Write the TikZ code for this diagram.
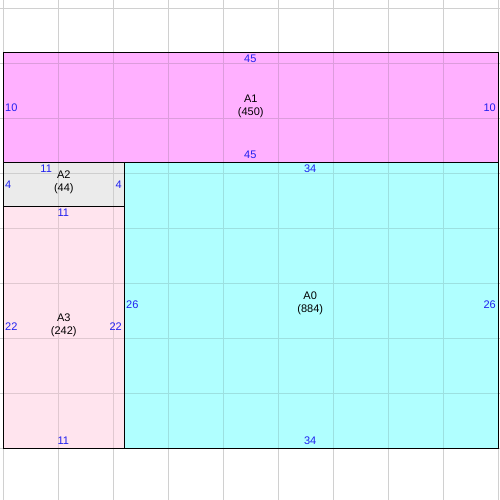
\documentclass[tikz,border=0pt]{standalone}
\usepackage{fontspec}
\setmainfont{Liberation Sans}
\definecolor{cA1}{HTML}{FFB0FF}
\definecolor{cA2}{HTML}{EBEBEB}
\definecolor{cA3}{HTML}{FFE4EE}
\definecolor{cA0}{HTML}{B0FFFF}
\definecolor{gW}{HTML}{D0D0D0}
\definecolor{gA1}{HTML}{DC9CDC}
\definecolor{gA2}{HTML}{CECECE}
\definecolor{gA3}{HTML}{E0C8D0}
\definecolor{gA0}{HTML}{9CE0E0}
\definecolor{numblue}{HTML}{2020F0}
\newcommand{\gridlines}[1]{%
  \foreach \x in {0,5,...,45} \draw[gridline,draw=#1] (\x,-4.7) -- (\x,40.7545);
  \foreach \y in {0,5,...,40} \draw[gridline,draw=#1] (-0.3,\y) -- (45.1545,\y);}
\begin{document}
\begin{tikzpicture}[x=8.25pt,y=8.25pt,
  gridline/.style={line width=0.75pt},
  area/.style={draw=black,line width=0.9pt},
  num/.style={text=numblue,font=\fontsize{8.25pt}{9.75pt}\selectfont,inner sep=0pt},
  lbl/.style={text=black,font=\fontsize{8.25pt}{9.75pt}\selectfont,align=center,inner sep=0pt}]
\useasboundingbox (-0.3,-4.7) rectangle (45.1545,40.7545);
\fill[white] (-0.3,-4.7) rectangle (45.1545,40.7545);
% white-area grid
\gridlines{gW}
% fills with tinted grid
\fill[cA1] (0,26) rectangle (45,36);
\begin{scope}\clip (0,26) rectangle (45,36); \gridlines{gA1} \end{scope}
\fill[cA2] (0,22) rectangle (11,26);
\begin{scope}\clip (0,22) rectangle (11,26); \gridlines{gA2} \end{scope}
\fill[cA3] (0,0) rectangle (11,22);
\begin{scope}\clip (0,0) rectangle (11,22); \gridlines{gA3} \end{scope}
\fill[cA0] (11,0) rectangle (45,26);
\begin{scope}\clip (11,0) rectangle (45,26); \gridlines{gA0} \end{scope}
% borders
\draw[area] (0,26) rectangle (45,36);
\draw[area] (0,22) rectangle (11,26);
\draw[area] (0,0) rectangle (11,22);
\draw[area] (11,0) rectangle (45,26);
% A1
\node[lbl] (a1) at (22.5,31.1) {A1\\(450)};
\node[num] (a1t) at (22.45,35.4) {45};
\node[num] (a1b) at (22.45,26.65) {45};
\node[num,anchor=west] (a1l) at (0.15,31) {10};
\node[num,anchor=east] (a1r) at (44.8,31) {10};
% A2
\node[lbl] (a2) at (5.5,24.15) {A2\\(44)};
\node[num] (a2t) at (3.9,25.4) {11};
\node[num,anchor=west] (a2l) at (0.15,23.95) {4};
\node[num,anchor=east] (a2r) at (10.8,23.95) {4};
% A3
\node[lbl] (a3) at (5.5,11.2) {A3\\(242)};
\node[num] (a3t) at (5.45,21.45) {11};
\node[num] (a3b) at (5.45,0.66) {11};
\node[num,anchor=west] (a3l) at (0.15,11.03) {22};
\node[num,anchor=east] (a3r) at (10.8,11.03) {22};
% A0
\node[lbl] (a0) at (27.9,13.15) {A0\\(884)};
\node[num] (a0t) at (27.9,25.4) {34};
\node[num] (a0b) at (27.9,0.66) {34};
\node[num,anchor=west] (a0l) at (11.15,13.03) {26};
\node[num,anchor=east] (a0r) at (44.8,13.03) {26};
\end{tikzpicture}
\end{document}
